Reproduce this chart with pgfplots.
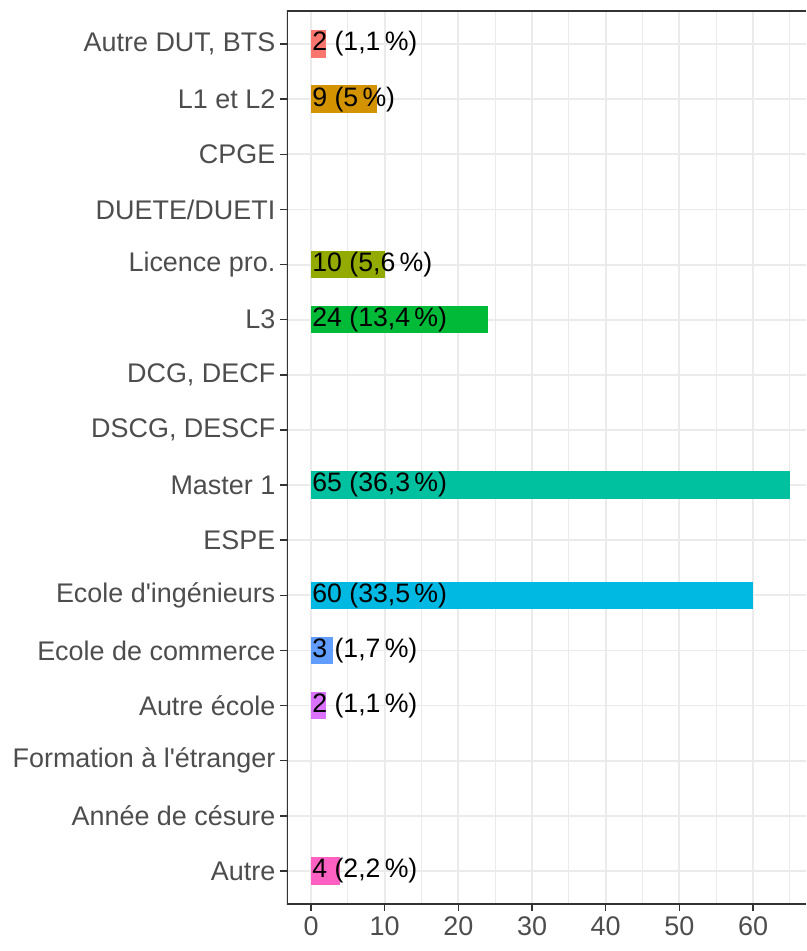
\documentclass[border=0pt]{standalone}
\usepackage{pgfplots}
\pgfplotsset{compat=1.18}
\usepackage{fontspec}
\setmainfont{Liberation Sans}
\definecolor{c1}{HTML}{F8766D}
\definecolor{c2}{HTML}{D39200}
\definecolor{c3}{HTML}{93AA00}
\definecolor{c4}{HTML}{00BA38}
\definecolor{c5}{HTML}{00C19F}
\definecolor{c6}{HTML}{00B9E3}
\definecolor{c7}{HTML}{619CFF}
\definecolor{c8}{HTML}{DB72FB}
\definecolor{c9}{HTML}{FF61C3}
\definecolor{gridmaj}{HTML}{EBEBEB}
\definecolor{frame}{HTML}{333333}
\definecolor{ticklab}{HTML}{4D4D4D}
\newcommand{\pc}{\kern0.16em\%}
\begin{document}
\begin{tikzpicture}
\begin{axis}[
  scale only axis,
  width=389.25pt, height=669.75pt,
  xmin=-3.26, xmax=67.19,
  ymin=-0.6, ymax=15.6,
  y dir=reverse,
  axis line style={draw=none},
  xtick={0,10,...,60},
  minor xtick={5,15,...,65},
  ytick={0,...,15},
  yticklabels={{Autre DUT, BTS},{L1 et L2},{CPGE},{DUETE/DUETI},{Licence pro.},{L3},{DCG, DECF},{DSCG, DESCF},{Master 1},{ESPE},{Ecole d\textquotesingle ingénieurs},{Ecole de commerce},{Autre école},{Formation à l\textquotesingle étranger},{Année de césure},{Autre}},
  xmajorgrids, xminorgrids, ymajorgrids,
  major grid style={gridmaj, line width=1.4pt},
  minor grid style={gridmaj, line width=0.75pt},
  tick align=outside,
  major tick length=5.25pt,
  minor tick length=0pt,
  tick style={frame, line width=1.1pt},
  xtick pos=bottom, ytick pos=left,
  ticklabel style={font=\fontsize{20.2}{24}\selectfont, text=ticklab},
  xticklabel style={yshift=-1pt},
  /pgf/number format/assume math mode=true,
  mybar/.style={xbar, bar width=0.5, bar shift=0pt, draw=none, fill=#1},
]
\addplot[mybar=c1] coordinates {(2,0)};
\addplot[mybar=c2] coordinates {(9,1)};
\addplot[mybar=c3] coordinates {(10,4)};
\addplot[mybar=c4] coordinates {(24,5)};
\addplot[mybar=c5] coordinates {(65,8)};
\addplot[mybar=c6] coordinates {(60,10)};
\addplot[mybar=c7] coordinates {(3,11)};
\addplot[mybar=c8] coordinates {(2,12)};
\addplot[mybar=c9] coordinates {(4,15)};
\addplot[draw=none, mark=none, nodes near coords, point meta=explicit symbolic,
  every node near coord/.append style={anchor=west, inner sep=0pt, xshift=0.8pt, text=black, font=\fontsize{20}{24}\selectfont}]
  coordinates {
  (0,0) [{2 (1,1\pc)}]
  (0,1) [{9 (5\pc)}]
  (0,4) [{10 (5,6\pc)}]
  (0,5) [{24 (13,4\pc)}]
  (0,8) [{65 (36,3\pc)}]
  (0,10) [{60 (33,5\pc)}]
  (0,11) [{3 (1,7\pc)}]
  (0,12) [{2 (1,1\pc)}]
  (0,15) [{4 (2,2\pc)}]
  };
\draw[frame, line width=1.5pt] (rel axis cs:1,0) -- (rel axis cs:0,0) -- (rel axis cs:0,1) -- (rel axis cs:1,1);
\end{axis}
\pgfresetboundingbox
\path ([xshift=-215.25pt, yshift=-35.25pt]current axis.south west) rectangle ([yshift=8.25pt]current axis.north east);
\end{tikzpicture}
\end{document}
